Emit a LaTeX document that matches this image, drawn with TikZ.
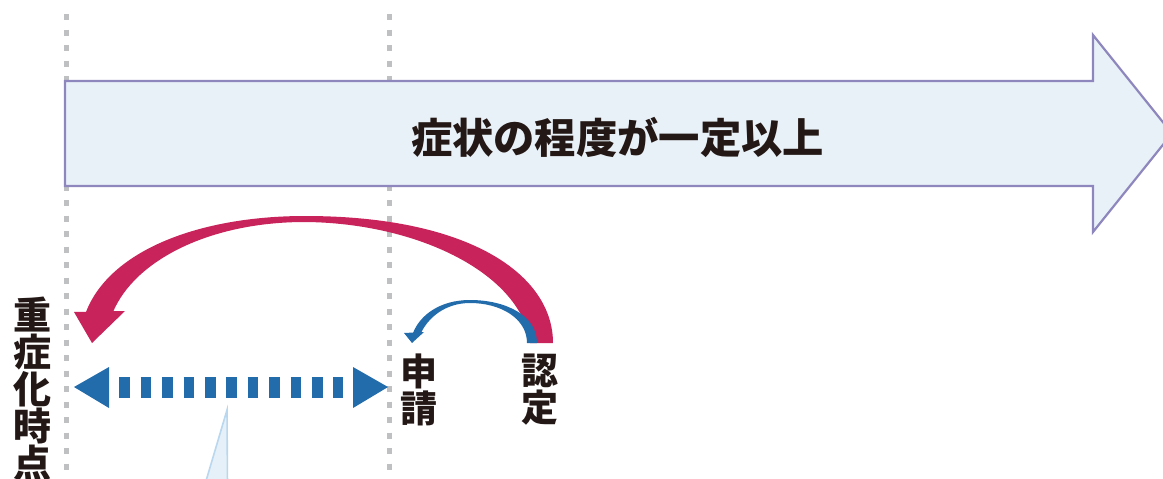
\documentclass[tikz,border=0pt]{standalone}
\usepackage{fontspec}
\newfontfamily\jp{Noto Sans CJK JP}
\definecolor{dotgray}{RGB}{190,192,194}
\definecolor{arrowfill}{RGB}{233,241,248}
\definecolor{arrowline}{RGB}{142,135,190}
\definecolor{crimson}{RGB}{200,35,90}
\definecolor{blueA}{RGB}{34,108,172}
\definecolor{txt}{RGB}{35,24,21}
\definecolor{paleblue}{RGB}{230,240,248}
\definecolor{palelineblue}{RGB}{185,215,238}
\tikzset{
  dotline/.style={draw=dotgray, line width=5pt, dash pattern=on 6pt off 9.5pt},
  bigarrow/.style={fill=arrowfill, draw=arrowline, line width=2.2pt, line join=miter},
  jtext/.style={text=txt, inner sep=0pt, align=center},
  redshape/.style={fill=crimson, draw=none},
  blueshape/.style={fill=blueA, draw=none},
  bluedash/.style={draw=blueA, line width=21pt, dash pattern=on 10.7pt off 10.7pt, line cap=butt},
  pointer/.style={fill=paleblue, draw=palelineblue, line width=1.6pt}
}
\begin{document}
\begin{tikzpicture}[x=1pt, y=-1pt]
\useasboundingbox (0,0) rectangle (1163,479);
\clip (0,0) rectangle (1163,479);
% dotted guide lines
\draw[dotline] (66,14) -- (66,485);
\draw[dotline] (389,14) -- (389,485);
% big arrow
\draw[bigarrow] (65,81) -- (1093,81) -- (1093,35) -- (1172,133.5) -- (1093,232) -- (1093,186) -- (65,186) -- cycle;
\node[jtext, font=\jp\bfseries\fontsize{41.3}{41.3}\selectfont] (title) at (617.5,137) {症状の程度が一定以上};
% labels
\node[jtext, font=\jp\bfseries\fontsize{38}{37}\selectfont] (jushoka) at (32.5,389) {重\\症\\化\\時\\点};
\node[jtext, font=\jp\bfseries\fontsize{37}{37}\selectfont] (shinsei) at (418.5,390) {申\\請};
\node[jtext, font=\jp\bfseries\fontsize{37}{37}\selectfont] (nintei) at (539.5,390) {認\\定};
% red curved arrow (nintei -> jushoka)
\fill[redshape] (553,343) .. controls (553,275) and (470,216) .. (305,216)
  .. controls (200,216) and (110,250) .. (86,312)
  -- (113,312) .. controls (135,260) and (210,222) .. (305,222)
  .. controls (420,223) and (522,275) .. (530,343) -- cycle;
\fill[redshape] (74,312) -- (92,343) -- (125,311) -- cycle;
% blue curved arrow (nintei -> shinsei)
\fill[blueshape] (537,343) .. controls (537,315) and (505,300) .. (470,300)
  .. controls (440,300) and (420,315) .. (413,333)
  -- (421,333) .. controls (428,318) and (445,303) .. (470,303)
  .. controls (500,303) and (527,318) .. (527,343) -- cycle;
\fill[blueshape] (404,333) -- (412,343) -- (424,332) -- cycle;
% blue dashed double arrow
\coordinate (dl) at (119.3,387);
\coordinate (dr) at (343,387);
\draw[bluedash] (dl) -- (dr);
\fill[blueshape] (74,387) -- (109,367) -- (109,408) -- cycle;
\fill[blueshape] (388,387) -- (353,367) -- (353,408) -- cycle;
% pale pointer
\draw[pointer] (227,410) -- (227.5,486) -- (204.5,486) -- cycle;
\end{tikzpicture}
\end{document}
